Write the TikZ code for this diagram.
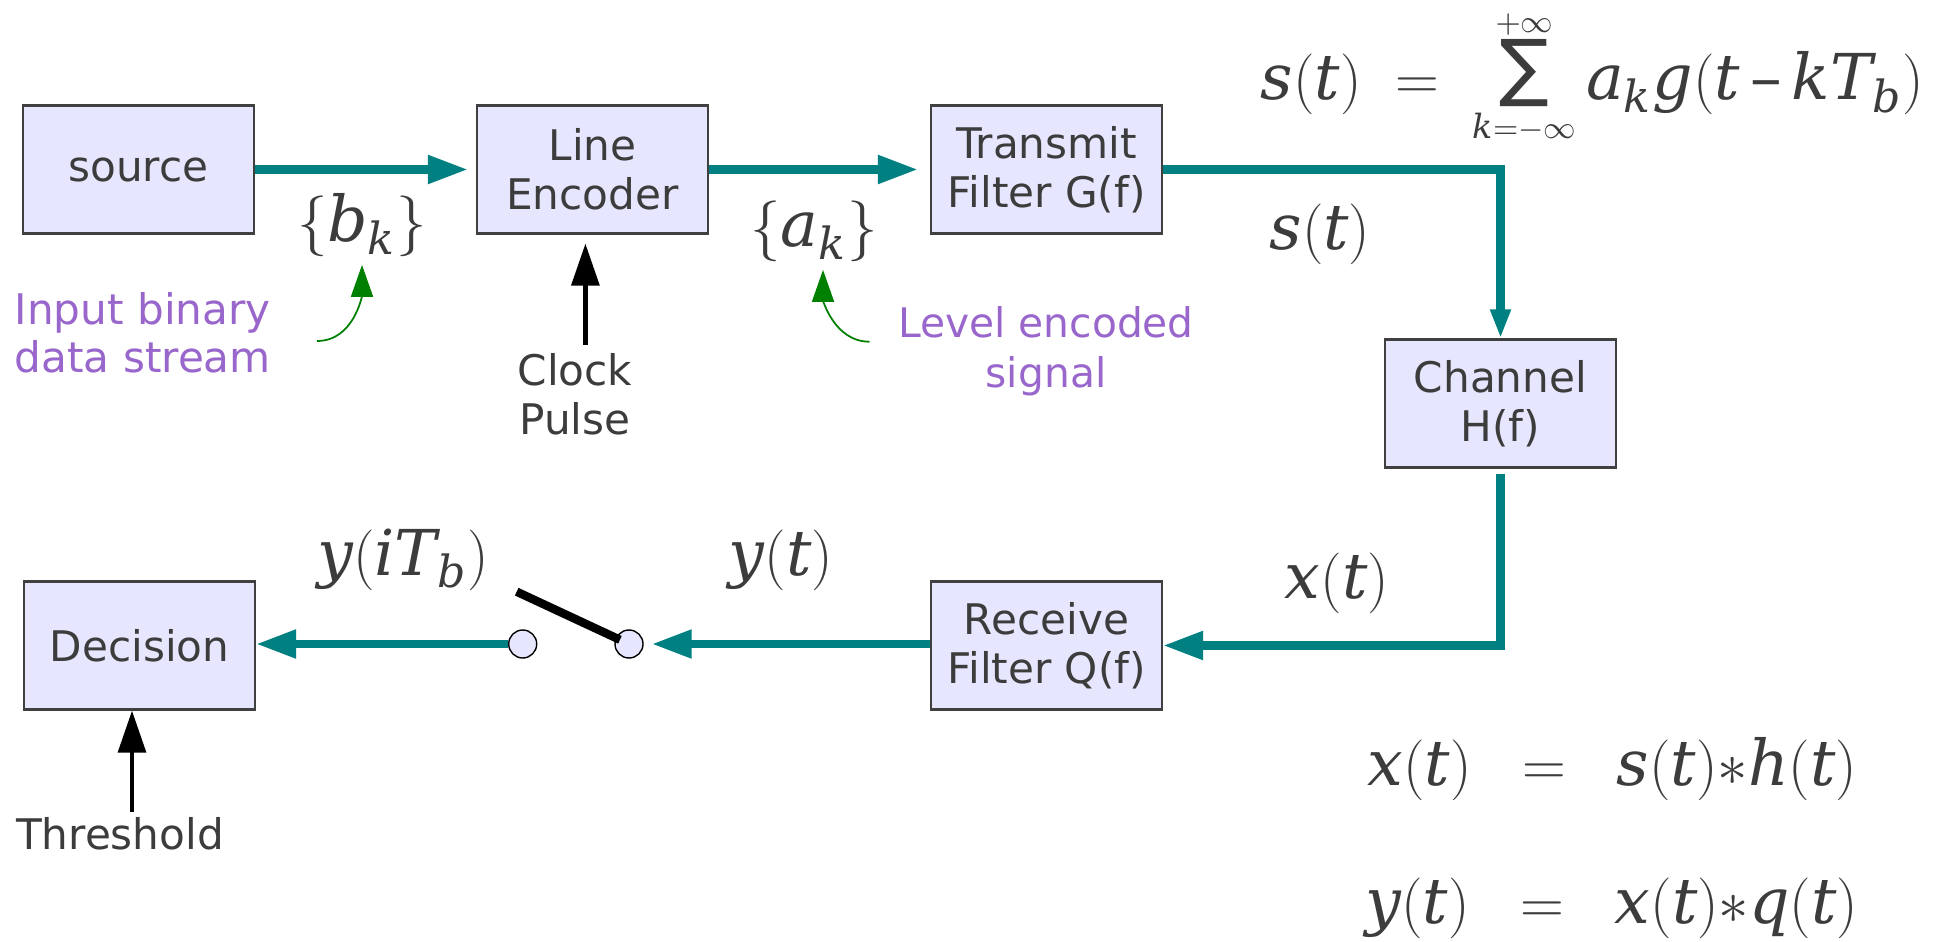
\documentclass[tikz,border=0pt]{standalone}
\usepackage[no-math]{fontspec}
\setmainfont{DejaVu Sans}
\newfontfamily\serifeq{DejaVu Serif}[NFSSFamily=dvserif]
\DeclareSymbolFont{letters}{TU}{dvserif}{m}{it}
\usepackage{tikz}
\usetikzlibrary{positioning, arrows.meta}
\definecolor{lav}{RGB}{230,230,255}
\definecolor{txt}{RGB}{60,60,60}
\definecolor{flowc}{RGB}{0,128,128}
\definecolor{notec}{RGB}{153,102,204}
\definecolor{tipc}{RGB}{0,128,0}
\newcommand{\limsize}[1]{\hbox{\fontsize{9.5}{9.5}\selectfont$#1$}}
\newcommand{\bigsum}{\mathop{\raisebox{2pt}{\fontsize{21}{21}\selectfont ∑}}}
\newcommand{\dash}{{\hbox{\serifeq –}}}
\tikzset{
>={Triangle[length=4mm,width=2.7mm]}, % big heads on the signal path
node distance=4.54cm, % centre to centre of the upper row
block/.style={draw=black!75, line width=0.6pt, fill=lav, text=txt, minimum width=2.31cm, minimum height=1.28cm, align=center, font=\fontsize{12}{14}\selectfont},
flow/.style={draw=flowc, line width=2.3pt, ->},
pulse/.style={draw=black, line width=1.3pt, -{Triangle[length=4.2mm,width=2.75mm]}},
note/.style={draw=tipc, line width=0.5pt, -{Triangle[length=3.2mm,width=2.2mm]}},
remark/.style={text=notec, inner sep=0pt, font=\fontsize{12}{13.6}\selectfont},
caption/.style={text=txt, font=\fontsize{12}{14}\selectfont},
sig/.style={text=txt, inner sep=0pt, font=\fontsize{18}{20}\selectfont},
contact/.style={circle, draw=black, line width=0.4pt, fill=lav, minimum size=0.28cm, inner sep=0pt},
lever/.style={draw=black, line width=2.4pt},
}
\begin{document}
\begin{tikzpicture}
\useasboundingbox (0,0) rectangle (19.41,-9.42);
% blocks
\node[block] (src) at (1.385,-1.695) {source};
\node[block, right of=src] (enc) {Line\\Encoder};
\node[block, right of=enc] (tx) {Transmit\\Filter G(f)};
\node[block, right of=tx, yshift=-2.34cm] (ch) {Channel\\H(f)};
\node[block, node distance=4.76cm, below of=tx] (rx) {Receive\\Filter Q(f)};
\node[block, node distance=9.07cm, left of=rx] (dec) {Decision};
% sampling switch
\node[contact] (swL) at (5.227,-6.44) {};
\node[contact] (swR) at (6.29,-6.44) {};
\coordinate (lev) at (5.167,-5.917);
% signal path
\draw[flow, shorten >=0.08cm] (src) -- (enc);
\draw[flow, shorten >=0.12cm] (enc) -- (tx);
\draw[flow, -{Triangle[length=2.9mm,width=1.9mm]}] (tx) -| (ch);
\draw[flow, shorten <=0.05cm] (ch) |- (rx);
\draw[flow, shorten >=0.08cm] (rx.west |- swR) -- (swR);
\draw[flow] (swL) -- (swL -| dec.east);
\draw[lever, shorten >=0.1cm] (lev) -- (swR.center);
% clock and threshold
\node[caption, align=center] (clk) at (5.75,-3.94) {Clock\\Pulse};
\coordinate (clkin) at (5.854,-3.45);
\draw[pulse, shorten >=0.09cm] (clkin) -- (clkin |- enc.south);
\node[caption] (thr) at (1.2,-8.34) {Threshold};
\coordinate (thrin) at (1.32,-8.117);
\draw[pulse] (thrin) -- (thrin |- dec.south);
% signal names
\node[sig, anchor=base] (bk) at (3.62,-2.42) {$\{b_k\}$};
\node[sig, anchor=base] (ak) at (8.14,-2.47) {$\{a_k\}$};
\node[sig, anchor=base] (st) at (13.2,-2.50) {$s(t)$};
\node[sig, anchor=base] (xt) at (13.37,-5.98) {$x(t)$};
\node[sig, anchor=base] (yi) at (4.03,-5.75) {$y(iT_b)$};
\node[sig, anchor=base] (yt) at (7.81,-5.75) {$y(t)$};
% remarks
\node[remark, align=left, anchor=west] (inp) at (0.14,-3.33) {Input binary\\data stream};
\node[remark, align=center, font=\fontsize{11.6}{14.2}\selectfont] (lvl) at (10.46,-3.51) {Level encoded\\signal};
\coordinate (inpend) at (3.17,-3.41);
\coordinate (lvlend) at (8.695,-3.417);
\draw[note, shorten >=0.07cm] (inpend) to[out=0,in=-90] (bk.south);
\draw[note, shorten >=0.07cm] (lvlend) to[out=180,in=-90] ([xshift=0.09cm]ak.south);
% equations
\node[sig, anchor=base west] (eqs) at (12.6,-1.00) {$s(t)\;=\;\bigsum\limits_{\limsize{k{=}{-}\infty}}^{\limsize{+\infty}}a_k g(t\,\dash\, kT_b)$};
\node[sig, anchor=base west] (eqx) at (13.67,-7.85) {$x(t)\;\;=\;\;s(t){\ast}h(t)$};
\node[sig, anchor=base west] (eqy) at (13.65,-9.23) {$y(t)\;\;=\;\;x(t){\ast}q(t)$};
\end{tikzpicture}
\end{document}
